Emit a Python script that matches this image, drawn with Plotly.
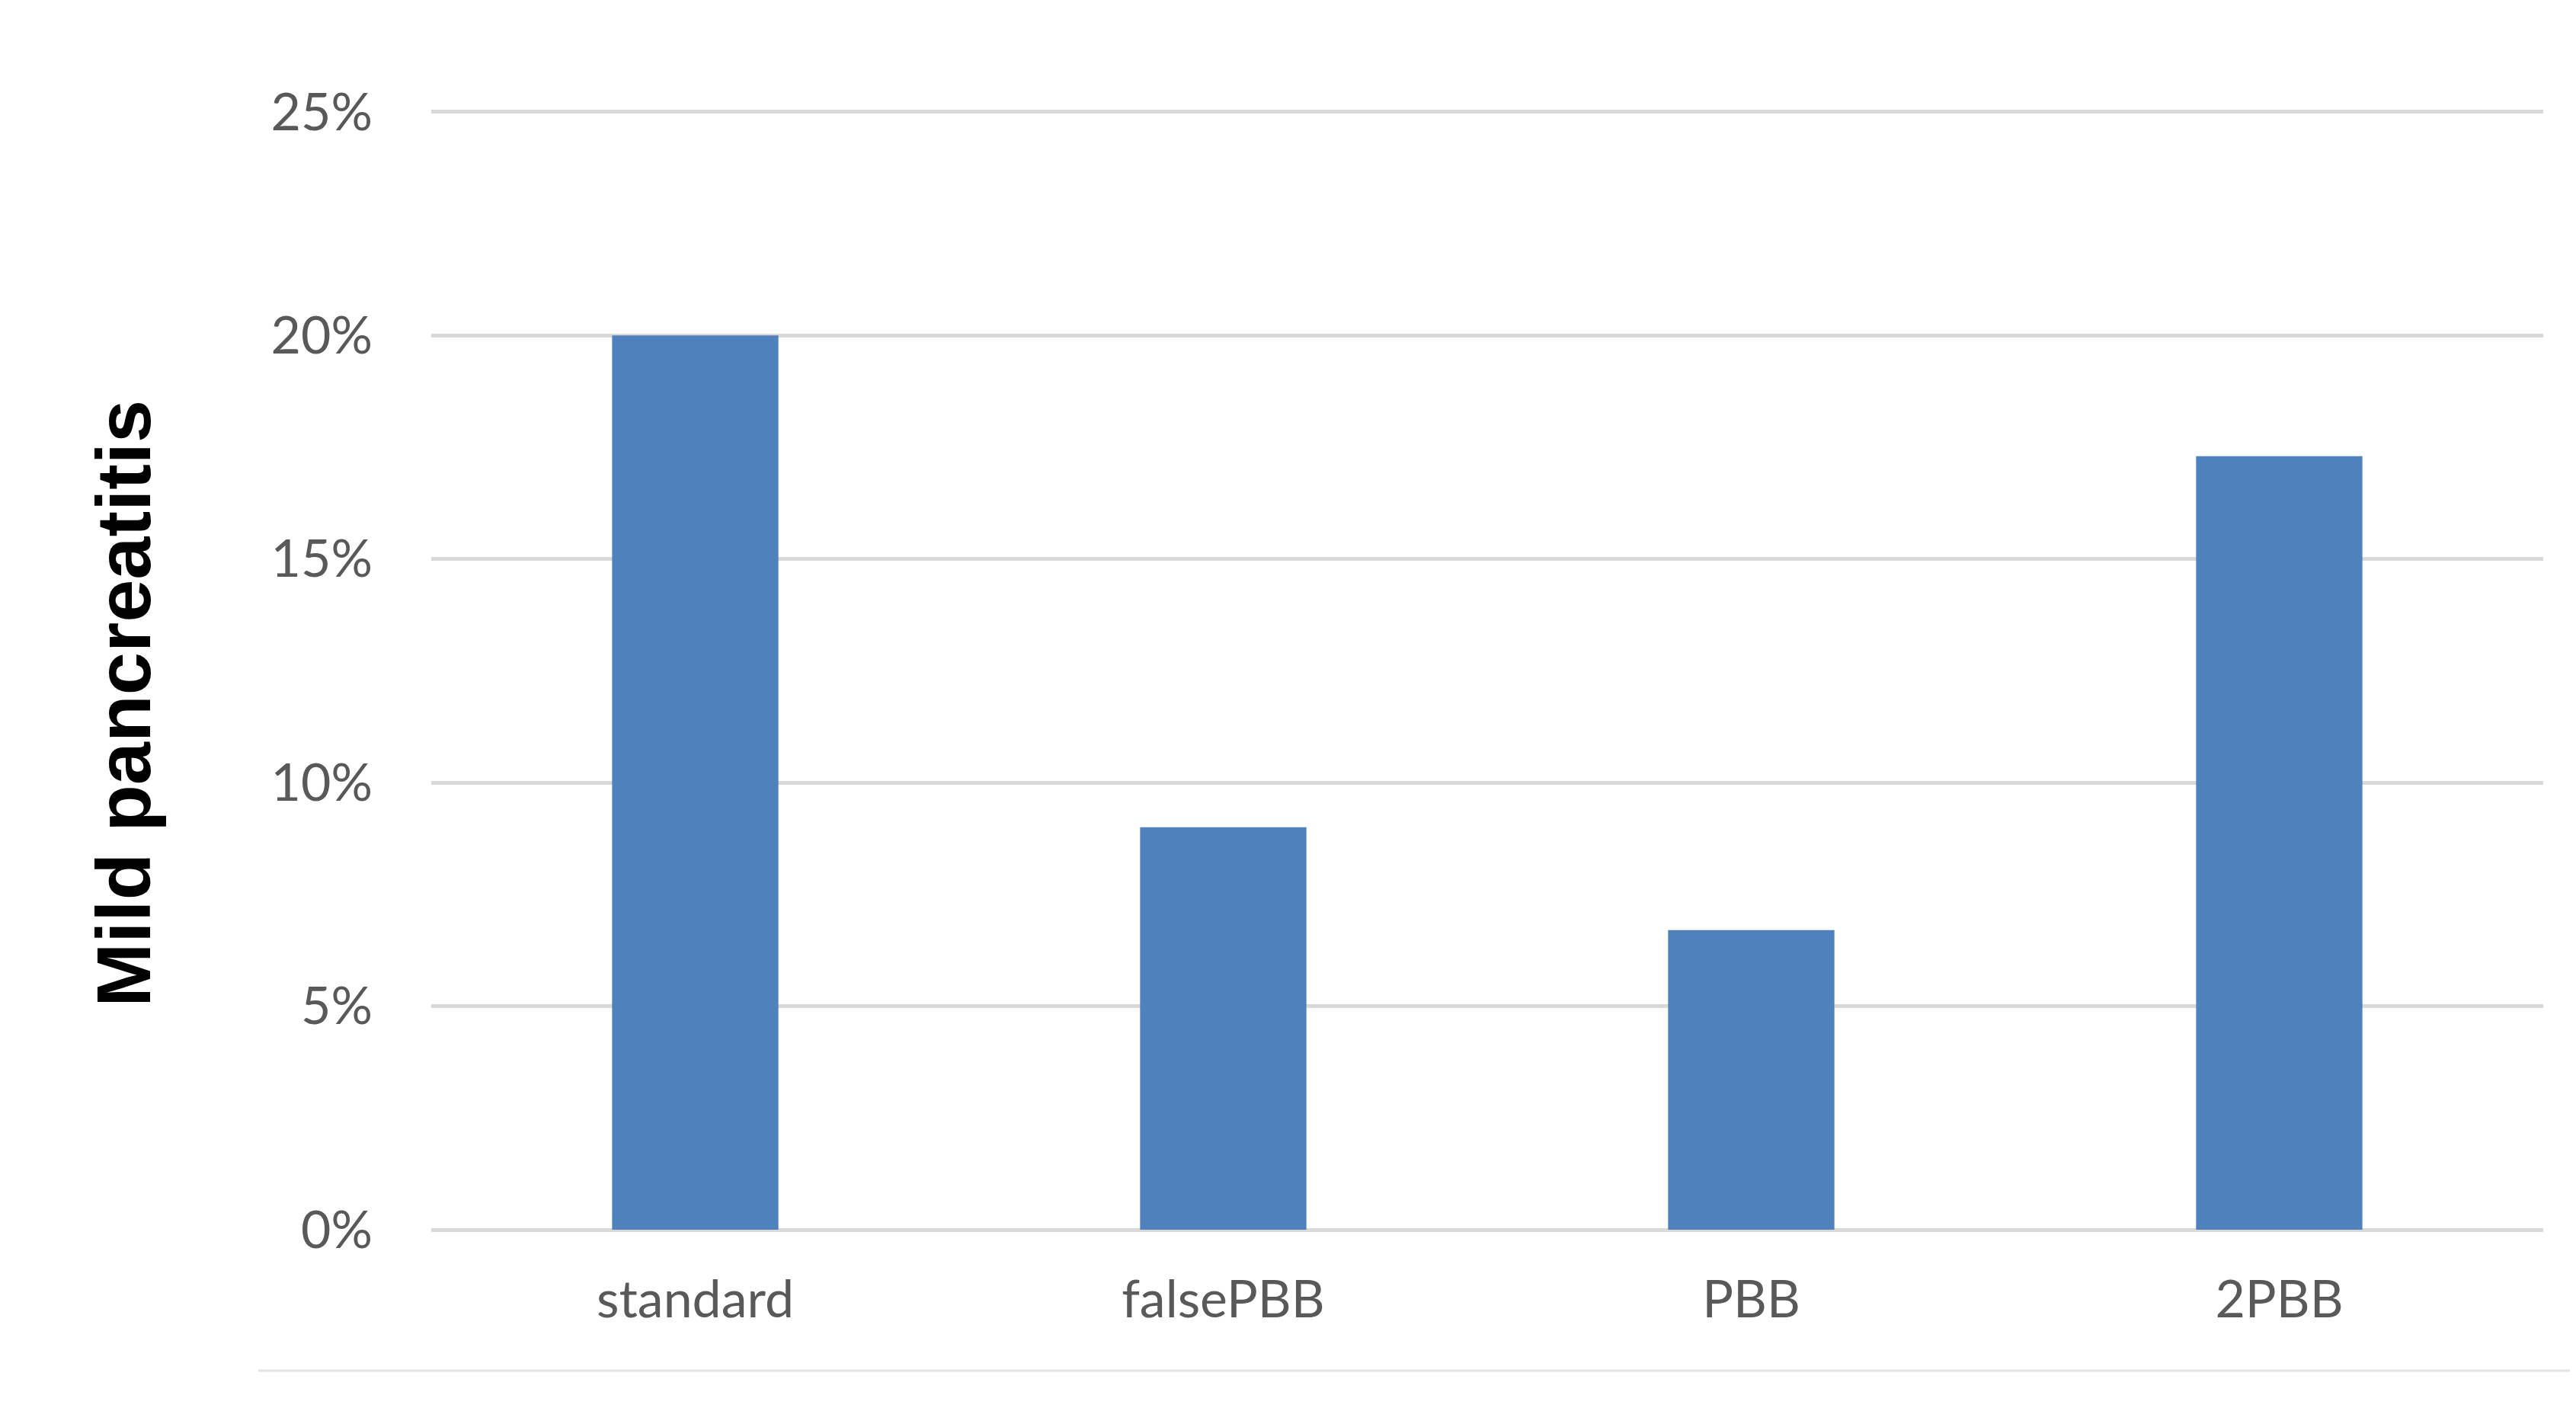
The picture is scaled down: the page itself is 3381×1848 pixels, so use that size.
import plotly.graph_objects as go

categories = ["standard", "falsePBB", "PBB", "2PBB"]
mild_pancreatitis = [0.200, 0.090, 0.067, 0.173]
y_ticks = [0, 0.05, 0.10, 0.15, 0.20, 0.25]
y_tick_labels = ["0%", "5%", "10%", "15%", "20%", "25%"]

W, H = 3381, 1848
tick_font = dict(family="Lato, Carlito, 'Open Sans', sans-serif", size=68, color="#595959")


def main():
    fig = go.Figure()
    fig.add_trace(go.Bar(
        x=categories,
        y=mild_pancreatitis,
        marker=dict(color="#4F81BD", line=dict(width=0)),
        showlegend=False,
    ))

    fig.update_layout(
        width=W,
        height=H,
        margin=dict(l=558, r=51, t=137, b=242),
        paper_bgcolor="white",
        plot_bgcolor="white",
        bargap=0.685,
    )
    fig.update_xaxes(
        tickfont=tick_font,
        showgrid=False,
        showline=False,
        ticks="",
        ticklabelstandoff=46,
    )
    # range a hair above 25% so the top gridline is still drawn
    fig.update_yaxes(
        range=[0, 0.2503],
        tickvals=y_ticks,
        ticktext=y_tick_labels,
        tickfont=tick_font,
        showgrid=True,
        gridcolor="#D9D9D9",
        gridwidth=5,
        zeroline=True,
        zerolinecolor="#D9D9D9",
        zerolinewidth=5,
        showline=False,
        ticks="",
        ticklabelstandoff=76,
    )

    # rotated axis title
    fig.add_annotation(
        text="<b>Mild pancreatitis</b>",
        xref="paper", yref="paper",
        x=-0.146, y=0.47,
        xanchor="center", yanchor="middle",
        textangle=-90,
        showarrow=False,
        font=dict(family="'Liberation Sans', Arial, sans-serif", size=101, color="black"),
    )

    # thin border line at the bottom of the chart area
    fig.add_shape(
        type="line",
        xref="paper", yref="paper",
        x0=(331 - 558) / 2772, x1=(3381 - 558) / 2772,
        y0=(1606 - 1791) / 1469, y1=(1606 - 1791) / 1469,
        line=dict(color="#E3E3E3", width=3),
    )

    fig.write_html("out.html")


if __name__ == "__main__":
    main()
